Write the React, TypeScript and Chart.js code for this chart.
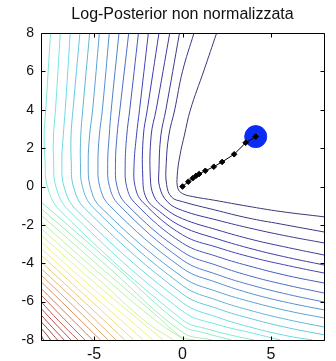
import React, { useEffect, useRef } from "react";
import { Chart, registerables } from "chart.js";

Chart.register(...registerables);

const TITLE = "Log-Posterior non normalizzata";
const X_TICKS = [-5, 0, 5];
const Y_TICKS = [-8, -6, -4, -2, 0, 2, 4, 6, 8];
const AXIS_MIN = -8;
const AXIS_MAX = 8;

// gradient path (w1, w2)
const pathX = [0, 0.33, 0.58, 0.77, 0.94, 1.29, 1.77, 2.24, 2.92, 3.57, 4.14];
const pathY = [0, 0.25, 0.43, 0.56, 0.65, 0.82, 1.03, 1.28, 1.68, 2.28, 2.6];
// optimum
const optimumX = [4.14];
const optimumY = [2.6];

// contour lines, innermost (highest) first as [w1, w2]
const c00 = [[1.93, 8], [1.22, 6.07], [0.44, 3.98], [0.11, 2.68], [-0.15, 1.6], [-0.3, 0.55], [-0.26, -0.1], [0, -0.37], [0.55, -0.52], [1.82, -0.72], [3.7, -1.03], [5.52, -1.3], [8, -1.58]];
const c01 = [[0.65, 8], [0, 6.0], [-0.44, 4.0], [-0.77, 2.68], [-0.92, 1.2], [-0.9, 0.1], [-0.62, -0.55], [0, -0.79], [1.82, -1.22], [3.7, -1.64], [5.52, -1.95], [8, -2.37]];
const c02 = [[-0.17, 8], [-0.94, 4], [-1.22, 2.68], [-1.33, 0.9], [-1.3, 0], [-0.85, -0.8], [0, -1.25], [2, -1.76], [4, -2.21], [6, -2.6], [8, -2.94]];
const c03 = [[-0.72, 8], [-1.49, 4], [-1.77, 2.68], [-1.82, 0.5], [-1.62, -0.5], [-1.05, -1.1], [0, -1.68], [2, -2.27], [4, -2.78], [6, -3.19], [8, -3.57]];
const c04 = [[-1.33, 8], [-1.99, 4], [-2.21, 2.68], [-2.25, 0.6], [-2.05, -0.6], [-1.3, -1.3], [0, -2.1], [2, -2.74], [4, -3.27], [6, -3.71], [8, -4.09]];
const c05 = [[-1.93, 8], [-2.43, 4], [-2.6, 2.68], [-2.74, 1.1], [-2.68, 0], [-2.26, -0.8], [0, -2.52], [2, -3.18], [4, -3.71], [6, -4.13], [8, -4.51]];
const c06 = [[-2.49, 8], [-2.98, 4], [-3.15, 2.68], [-3.24, 1.1], [-3.16, 0], [-2.7, -0.85], [0, -2.95], [2, -3.66], [4, -4.2], [6, -4.66], [8, -5.03]];
const c07 = [[-3.04, 8], [-3.54, 4], [-3.7, 2.68], [-3.79, 1.15], [-3.7, 0], [-3.2, -0.9], [0, -3.4], [2, -4.13], [4, -4.71], [6, -5.16], [8, -5.55]];
const c08 = [[-3.59, 8], [-4.03, 4], [-4.14, 2.68], [-4.23, 1.2], [-4.13, 0], [-3.6, -0.95], [0, -3.83], [2, -4.6], [4, -5.17], [6, -5.63], [8, -6.02]];
const c09 = [[-4.14, 8], [-4.53, 4], [-4.7, 2.68], [-4.78, 1.2], [-4.68, 0], [-4.12, -1.0], [0, -4.26], [2, -5.02], [4, -5.61], [6, -6.06], [8, -6.43]];
const c10 = [[-4.7, 8], [-5.08, 4], [-5.25, 2.68], [-5.33, 1.25], [-5.22, 0], [-4.66, -1.05], [0, -4.72], [2, -5.49], [4, -6.04], [6, -6.49], [8, -6.85]];
const c11 = [[-5.25, 8], [-5.64, 4], [-5.75, 2.68], [-5.77, 1.25], [-5.66, 0], [-5.05, -1.1], [0, -5.16], [2, -5.94], [4, -6.5], [6, -6.95], [8, -7.32]];
const c12 = [[-5.8, 8], [-6.19, 4], [-6.3, 2.68], [-6.29, 1.3], [-6.17, 0], [-5.52, -1.15], [0, -5.6], [2, -6.37], [4, -6.92], [6, -7.37], [8, -7.73]];
const c13 = [[-6.35, 8], [-6.63, 4], [-6.74, 2.68], [-6.82, 1.3], [-6.7, 0], [-6.02, -1.2], [0, -6.05], [2, -6.82], [4, -7.37], [6, -7.8], [7.35, -8]];
const c14 = [[-6.91, 8], [-7.18, 4], [-7.29, 2.68], [-7.29, 1.3], [-7.16, 0], [-6.46, -1.22], [0, -6.5], [2, -7.2], [4, -7.65], [5.52, -8]];
const c15 = [[-7.46, 8], [-7.73, 4], [-7.82, 2.68], [-7.77, 1.3], [-7.64, 0], [-6.93, -1.25], [0, -6.95], [1.5, -7.45], [3, -7.8], [4.03, -8]];
const c16 = [[-8, -0.8], [-4.0, -4.0], [0, -7.25], [1.2, -7.62], [2.76, -8]];
const c17 = [[-8, -1.15], [-4.2, -4.2], [0, -7.6], [1.66, -8]];
const c18 = [[-8, -1.49], [-4.4, -4.4], [-1.5, -6.7], [0, -7.88], [0.72, -8]];
const c19 = [[-8, -1.84], [-4.6, -4.6], [-1.5, -7.0], [0.11, -8]];
const c20 = [[-8, -2.19], [-4.8, -4.8], [-2, -7.1], [-0.5, -8]];
const c21 = [[-8, -2.53], [-5.0, -5.0], [-1.1, -8]];
const c22 = [[-8, -2.88], [-5.2, -5.2], [-1.66, -8]];
const c23 = [[-8, -3.23], [-5.4, -5.4], [-2.21, -8]];
const c24 = [[-8, -3.57], [-5.6, -5.6], [-2.76, -8]];
const c25 = [[-8, -3.92], [-5.8, -5.8], [-3.26, -8]];
const c26 = [[-8, -4.27], [-6.0, -6.0], [-3.76, -8]];
const c27 = [[-8, -4.61], [-6.2, -6.2], [-4.2, -8]];
const c28 = [[-8, -4.96], [-6.4, -6.4], [-4.64, -8]];
const c29 = [[-8, -5.31], [-6.6, -6.6], [-5.08, -8]];
const c30 = [[-8, -5.65], [-6.8, -6.8], [-5.52, -8]];
const c31 = [[-8, -6.0], [-7.0, -7.0], [-5.91, -8]];
const c32 = [[-8, -6.35], [-7.17, -7.17], [-6.3, -8]];
const c33 = [[-8, -6.69], [-7.35, -7.35], [-6.69, -8]];
const c34 = [[-8, -7.04], [-7.52, -7.52], [-7.07, -8]];
const c35 = [[-8, -7.39], [-7.7, -7.7], [-7.46, -8]];
const c36 = [[-8, -7.73], [-7.85, -8]];

const contourLines = [
  c00, c01, c02, c03, c04, c05, c06, c07, c08, c09,
  c10, c11, c12, c13, c14, c15, c16, c17, c18, c19,
  c20, c21, c22, c23, c24, c25, c26, c27, c28, c29,
  c30, c31, c32, c33, c34, c35, c36,
];

// jet colour map, softened like thin lines in the reference
function lineColor(t: number): string {
  const cl = (v: number) => Math.max(0, Math.min(1, v));
  const r = 255 * cl(1.5 - Math.abs(4 * t - 3));
  const g = 255 * cl(1.5 - Math.abs(4 * t - 2));
  const b = 255 * cl(1.5 - Math.abs(4 * t - 1));
  const lum = 0.299 * r + 0.587 * g + 0.114 * b;
  const soft = (c: number) => {
    const d = lum + 0.6 * (c - lum);
    return Math.round(0.8 * d + 0.2 * 255);
  };
  return `rgb(${soft(r)},${soft(g)},${soft(b)})`;
}

const FONT_FAMILY = "'Liberation Sans', Arial, Helvetica, sans-serif";

const framePlugin = {
  id: "frame",
  afterDatasetsDraw(chart: any) {
    const { ctx, chartArea: a } = chart;
    const xs = chart.scales.x;
    const ys = chart.scales.y;
    const L = Math.round(a.left) + 0.5;
    const R = Math.round(a.right) + 0.5;
    const T = Math.round(a.top) + 0.5;
    const B = Math.round(a.bottom) + 0.5;
    const len = 4;
    ctx.save();
    ctx.strokeStyle = "#000";
    ctx.lineWidth = 1;
    ctx.beginPath();
    ctx.rect(L, T, R - L, B - T);
    for (const v of Y_TICKS) {
      const p = Math.round(ys.getPixelForValue(v)) + 0.5;
      ctx.moveTo(L, p);
      ctx.lineTo(L + len, p);
      ctx.moveTo(R, p);
      ctx.lineTo(R - len, p);
    }
    for (const v of X_TICKS) {
      const p = Math.round(xs.getPixelForValue(v)) + 0.5;
      ctx.moveTo(p, B);
      ctx.lineTo(p, B - len);
      ctx.moveTo(p, T);
      ctx.lineTo(p, T + len);
    }
    ctx.stroke();
    ctx.restore();
  },
};

export default function App() {
  const ref = useRef<HTMLCanvasElement | null>(null);

  useEffect(() => {
    document.body.style.margin = "0";
    const canvas = ref.current;
    if (!canvas) return;

    const contourSets = contourLines.map((line, k) => ({
      label: `c${k}`,
      data: line.map(([x, y]) => ({ x, y })),
      showLine: true,
      borderColor: lineColor(k / (contourLines.length - 1)),
      borderWidth: 1,
      pointRadius: 0,
      pointHoverRadius: 0,
      tension: 0.4,
      fill: false,
    }));

    const chart = new Chart(canvas, {
      type: "scatter",
      data: {
        datasets: [
          {
            label: "path",
            data: pathX.map((x, i) => ({ x, y: pathY[i] })),
            showLine: true,
            borderColor: "#000",
            borderWidth: 1,
            pointStyle: "rectRot",
            pointRadius: 2.8,
            pointBackgroundColor: "#000",
            pointBorderColor: "#000",
            pointBorderWidth: 1,
            tension: 0,
          },
          {
            label: "optimum",
            data: optimumX.map((x, i) => ({ x, y: optimumY[i] })),
            showLine: false,
            pointRadius: 11,
            pointBackgroundColor: "#0b2cf4",
            pointBorderColor: "#0b2cf4",
            pointBorderWidth: 1,
          },
          ...contourSets,
        ] as any,
      },
      options: {
        responsive: false,
        animation: false,
        devicePixelRatio: 1,
        events: [],
        layout: { padding: { left: 0, right: 5, top: 0, bottom: 0 } },
        plugins: {
          legend: { display: false },
          tooltip: { enabled: false },
          title: {
            display: true,
            text: TITLE,
            fullSize: false,
            color: "#111",
            font: { family: FONT_FAMILY, size: 16, weight: "normal", lineHeight: 1.25 },
            padding: { top: 5, bottom: 8 },
          },
        },
        scales: {
          x: {
            type: "linear",
            min: AXIS_MIN,
            max: AXIS_MAX,
            grid: { display: false, drawTicks: false },
            border: { display: false },
            afterBuildTicks: (scale: any) => {
              scale.ticks = X_TICKS.map((value) => ({ value }));
            },
            afterFit: (scale: any) => {
              scale.height = 21;
            },
            ticks: {
              padding: 5,
              color: "#111",
              maxRotation: 0,
              font: { family: FONT_FAMILY, size: 16 },
            },
          },
          y: {
            type: "linear",
            min: AXIS_MIN,
            max: AXIS_MAX,
            grid: { display: false, drawTicks: false },
            border: { display: false },
            afterBuildTicks: (scale: any) => {
              scale.ticks = Y_TICKS.map((value) => ({ value }));
            },
            afterFit: (scale: any) => {
              scale.width = 41;
            },
            ticks: {
              padding: 7,
              color: "#111",
              font: { family: FONT_FAMILY, size: 14 },
            },
          },
        },
      } as any,
      plugins: [framePlugin],
    });

    return () => chart.destroy();
  }, []);

  return (
    <div style={{ width: 336, height: 361, overflow: "hidden" }}>
      <canvas ref={ref} width={336} height={361} style={{ display: "block", width: 336, height: 361 }} />
    </div>
  );
}
